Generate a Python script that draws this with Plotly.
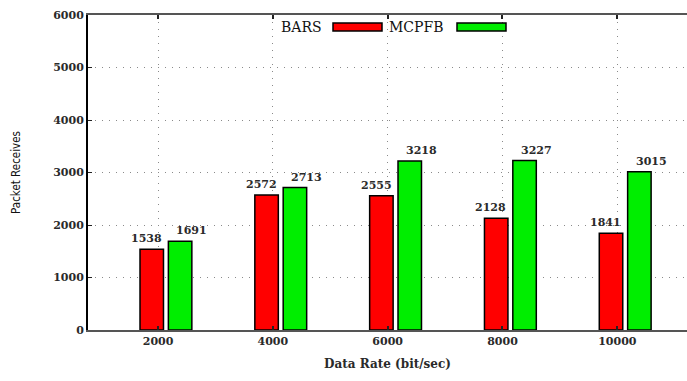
import plotly.graph_objects as go

# Data
rates = [2000, 4000, 6000, 8000, 10000]
bars_vals = [1538, 2572, 2555, 2128, 1841]
mcpfb_vals = [1691, 2713, 3218, 3227, 3015]
series_names = ["BARS", "MCPFB"]
y_ticks = [0, 1000, 2000, 3000, 4000, 5000, 6000]

W, H = 687, 381
ML, MR, MT, MB = 88, 0, 15, 51
X_RANGE = [780, 11214]
px_per_unit = (W - ML - MR) / (X_RANGE[1] - X_RANGE[0])

BAR_W = 409          # bar width in data units
RED_OFF = -314       # left edge of red bar relative to the category tick
GREEN_OFF = 180      # left edge of green bar relative to the category tick

RED = "#ff0000"
GREEN = "#00ee00"
SERIF = "DejaVu Serif"
TEXT = "#2a2a2a"
GRID = dict(showgrid=True, gridcolor="#8a8a8a", griddash="1px,6px", gridwidth=1)

fig = go.Figure()
for name, vals, color, off in [
    (series_names[0], bars_vals, RED, RED_OFF),
    (series_names[1], mcpfb_vals, GREEN, GREEN_OFF),
]:
    fig.add_trace(go.Bar(
        x=rates, y=vals, name=name,
        width=[BAR_W] * len(rates), offset=[off] * len(rates),
        marker=dict(color=color, line=dict(color="black", width=1.5)),
        showlegend=False,
    ))

# value labels above the bars
annotations = []
for vals, off, shift in [(bars_vals, RED_OFF, 6.5), (mcpfb_vals, GREEN_OFF, 23.5)]:
    for r, v in zip(rates, vals):
        annotations.append(dict(
            x=r, y=v, xref="x", yref="y", text=str(v), showarrow=False,
            xshift=off * px_per_unit + shift, yshift=2,
            yanchor="bottom", xanchor="center",
            font=dict(family=SERIF, size=11, color=TEXT, weight="bold"),
        ))

# legend: text followed by a swatch
legend_items = [("BARS", 301, 333, 382, RED), ("MCPFB", 416, 457, 506, GREEN)]
shapes = []
for text, tx, x0, x1, color in legend_items:
    annotations.append(dict(
        x=(tx - ML) / (W - ML - MR), y=(H - MB - 27) / (H - MT - MB),
        xref="paper", yref="paper", text=text, showarrow=False,
        xanchor="center", yanchor="middle",
        font=dict(family=SERIF, size=14, color="#111"),
    ))
    shapes.append(dict(
        type="rect", xref="paper", yref="paper",
        x0=(x0 - ML) / (W - ML - MR), x1=(x1 - ML) / (W - ML - MR),
        y0=(H - MB - 31) / (H - MT - MB), y1=(H - MB - 23) / (H - MT - MB),
        fillcolor=color, line=dict(color="black", width=1.5),
    ))

fig.update_layout(
    width=W, height=H,
    margin=dict(l=ML, r=MR, t=MT, b=MB),
    paper_bgcolor="white", plot_bgcolor="white",
    annotations=annotations, shapes=shapes,
    xaxis=dict(
        range=X_RANGE, tickvals=rates, ticktext=[str(r) for r in rates],
        **GRID,
        showline=True, linecolor="#555", linewidth=2, mirror="ticks",
        ticks="inside", ticklen=4, tickcolor="#222", tickwidth=2,
        tickfont=dict(family=SERIF, size=11, color=TEXT, weight="bold"),
        title=dict(text="Data Rate (bit/sec)", standoff=12,
                   font=dict(family=SERIF, size=12, color=TEXT, weight="bold")),
        zeroline=False,
    ),
    yaxis=dict(
        range=[0, 6000], tickvals=y_ticks,
        **GRID,
        showline=True, linecolor="black", linewidth=2,
        ticks="inside", ticklen=4, tickcolor="#222",
        tickfont=dict(family=SERIF, size=11, color=TEXT, weight="bold"),
        title=dict(text="Packet Receives", standoff=30,
                   font=dict(family="DejaVu Sans Condensed, DejaVu Sans",
                             size=11.5, color="#111")),
        zeroline=False,
    ),
)

fig.write_html("out.html")
